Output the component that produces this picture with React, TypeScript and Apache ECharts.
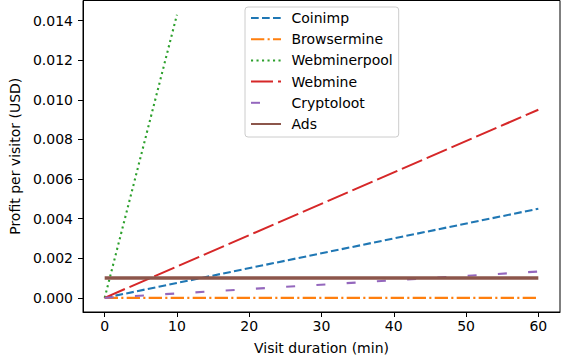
import React, { useEffect, useRef } from "react";
import * as echarts from "echarts";

const durations = [0, 60];
const webminerpoolDurations = [0, 10];
const coinimp = [0, 0.0045];
const browsermine = [0, 0];
const webminerpool = [0, 0.0143];
const webmine = [0, 0.0095];
const cryptoloot = [0, 0.00133];
const ads = [0.001, 0.001];
const xTicks = [0, 10, 20, 30, 40, 50, 60];
const yTicks = [0, 0.002, 0.004, 0.006, 0.008, 0.01, 0.012, 0.014];

const FONT = "DejaVu Sans";

function pairs(xs: number[], ys: number[]) {
  return xs.map((x, i) => [x, ys[i]]);
}

export default function App() {
  const ref = useRef<HTMLDivElement>(null);
  useEffect(() => {
    if (!ref.current) return;
    const chart = echarts.init(ref.current, undefined, { renderer: "svg" });
    const mk = (name: string, data: number[][], color: string, width: number, type: any) => ({
      name,
      type: "line",
      data,
      symbol: "none",
      showSymbol: false,
      lineStyle: { color, width, type, cap: "butt" },
      itemStyle: { color },
      emphasis: { disabled: true },
    });
    chart.setOption({
      animation: false,
      textStyle: { fontFamily: FONT },
      grid: {
        left: 83,
        right: 1,
        top: 0.5,
        bottom: 50,
        show: true,
        borderColor: "#000",
        borderWidth: 1,
        backgroundColor: "transparent",
        outerBoundsMode: "none",
        containLabel: false,
      },
      legend: {
        orient: "vertical",
        left: 245,
        top: 7,
        padding: [4, 6, 6, 5],
        itemWidth: 30,
        itemHeight: 14,
        itemGap: 7.2,
        backgroundColor: "rgba(255,255,255,0.8)",
        borderColor: "#cccccc",
        borderWidth: 1,
        borderRadius: 3,
        itemStyle: { opacity: 0, borderWidth: 0 },
        textStyle: { fontFamily: FONT, fontSize: 14, color: "#000", padding: [0, 0, 0, 5.5] },
        data: ["Coinimp", "Browsermine", "Webminerpool", "Webmine", "Cryptoloot", "Ads"],
      },
      xAxis: {
        type: "value",
        min: -3,
        max: 63,
        name: "Visit duration (min)",
        nameLocation: "middle",
        nameGap: 29,
        nameTextStyle: { fontFamily: FONT, fontSize: 14, color: "#000" },
        splitLine: { show: false },
        axisLine: { show: true, onZero: false, lineStyle: { color: "#000", width: 1 } },
        axisTick: { show: true, length: 5, lineStyle: { color: "#000" }, customValues: xTicks },
        axisLabel: { fontFamily: FONT, fontSize: 14, color: "#000", margin: 7, customValues: xTicks },
      },
      yAxis: {
        type: "value",
        min: -0.000715,
        max: 0.015015,
        name: "Profit per visitor (USD)",
        nameLocation: "middle",
        nameGap: 57,
        nameTextStyle: { fontFamily: FONT, fontSize: 14, color: "#000" },
        splitLine: { show: false },
        axisLine: { show: true, onZero: false, lineStyle: { color: "#000", width: 1 } },
        axisTick: { show: true, length: 5, lineStyle: { color: "#000" }, customValues: yTicks },
        axisLabel: {
          fontFamily: FONT,
          fontSize: 14,
          color: "#000",
          margin: 10,
          customValues: yTicks,
          formatter: (v: number) => v.toFixed(3),
        },
      },
      series: [
        mk("Coinimp", pairs(durations, coinimp), "#1f77b4", 2.1, [7.7, 3.3]),
        mk("Browsermine", pairs(durations, browsermine), "#ff7f0e", 2.1, [13.3, 3.3, 2.1, 3.3]),
        mk("Webminerpool", pairs(webminerpoolDurations, webminerpool), "#2ca02c", 2.1, [2.1, 3.4]),
        mk("Webmine", pairs(durations, webmine), "#d62728", 2.1, [22, 5]),
        mk("Cryptoloot", pairs(durations, cryptoloot), "#9467bd", 2.1, [9, 21.3]),
        mk("Ads", pairs(durations, ads), "#8c564b", 3.5, "solid"),
      ],
    });
    return () => chart.dispose();
  }, []);
  return <div ref={ref} style={{ width: 561, height: 362, position: "absolute", left: 0, top: 0 }} />;
}
